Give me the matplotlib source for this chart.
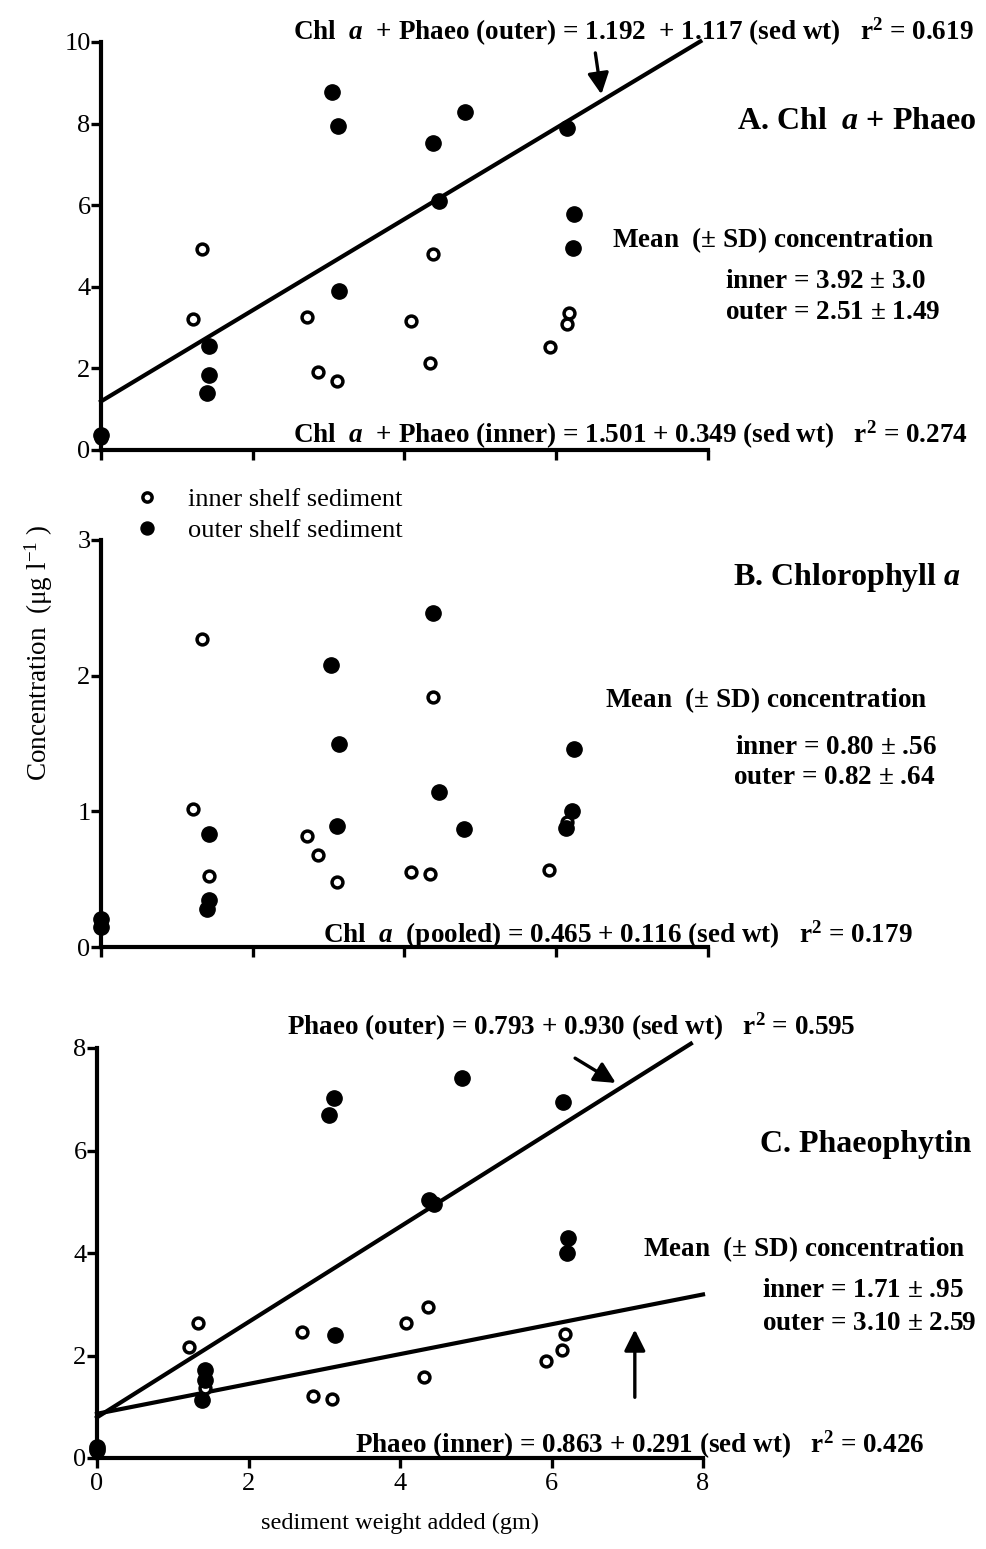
import numpy as np
import matplotlib
matplotlib.use("Agg")
from matplotlib import pyplot as plt

plt.rcParams['font.family'] = ['Liberation Serif', 'DejaVu Serif']
plt.rcParams['mathtext.fontset'] = 'custom'
plt.rcParams['mathtext.rm'] = 'Liberation Serif:bold'
plt.rcParams['mathtext.bf'] = 'Liberation Serif:bold'
plt.rcParams['mathtext.it'] = 'Liberation Serif:italic:bold'
plt.rcParams['mathtext.sf'] = 'Liberation Serif'

# --- A. Chl a + Phaeo ---
a_inner_x = [0.0, 1.33, 1.21, 2.71, 2.86, 3.11, 4.08, 4.34, 4.37, 5.92, 6.14, 6.17]
a_inner_y = [0.30, 4.93, 3.21, 3.26, 1.91, 1.70, 3.17, 2.13, 4.80, 2.52, 3.08, 3.35]
a_outer_x = [0.0, 1.42, 1.42, 1.40, 3.04, 3.12, 3.14, 4.37, 4.45, 4.80, 6.14, 6.24, 6.22]
a_outer_y = [0.37, 2.55, 1.84, 1.39, 8.77, 7.94, 3.90, 7.53, 6.10, 8.29, 7.90, 5.78, 4.95]
a_fit_outer = (1.192, 1.117)

# --- B. Chlorophyll a ---
b_inner_x = [1.33, 1.21, 1.42, 2.71, 2.86, 3.11, 4.08, 4.33, 4.37, 5.91, 6.14]
b_inner_y = [2.27, 1.02, 0.52, 0.82, 0.68, 0.48, 0.55, 0.54, 1.84, 0.57, 0.92]
b_outer_x = [0.0, 0.0, 1.42, 1.42, 1.40, 3.03, 3.14, 3.11, 4.37, 4.45, 4.78, 6.24, 6.21, 6.13]
b_outer_y = [0.21, 0.15, 0.83, 0.35, 0.28, 2.08, 1.50, 0.89, 2.46, 1.14, 0.87, 1.46, 1.00, 0.88]

# --- C. Phaeophytin ---
c_inner_x = [1.21, 1.33, 1.42, 2.71, 2.85, 3.10, 4.08, 4.37, 4.32, 5.93, 6.14, 6.18]
c_inner_y = [2.17, 2.63, 1.37, 2.46, 1.21, 1.15, 2.63, 2.95, 1.58, 1.89, 2.11, 2.42]
c_outer_x = [0.0, 0.0, 1.43, 1.43, 1.39, 3.06, 3.13, 3.14, 4.38, 4.45, 4.82, 6.15, 6.22, 6.21]
c_outer_y = [0.22, 0.15, 1.72, 1.52, 1.13, 6.69, 7.02, 2.40, 5.03, 4.96, 7.41, 6.95, 4.29, 4.00]
c_fit_outer = (0.793, 0.930)
c_fit_inner = (0.863, 0.291)

W, H = 986, 1549
fig = plt.figure(figsize=(W / 100, H / 100), dpi=100)


def px_axes(left, right, bottom, top):
    return fig.add_axes([left / W, 1 - bottom / H, (right - left) / W, (bottom - top) / H])


def style(ax, ymax, ystep, xlabels=False):
    ax.set_xlim(0, 8)
    ax.set_ylim(0, ymax)
    ax.set_xticks([0, 2, 4, 6, 8])
    ticks = np.arange(0, ymax + 0.01, ystep)
    ax.set_yticks(ticks)
    ax.set_yticklabels([f"{v:g}" for v in ticks])
    if not xlabels:
        ax.set_xticklabels([])
    for s in ['top', 'right']:
        ax.spines[s].set_visible(False)
    for s in ['left', 'bottom']:
        ax.spines[s].set_linewidth(3)
    ax.tick_params(width=2.4, length=7, labelsize=19, pad=0.5)
    ax.patch.set_alpha(0)


def scatter(ax, xi, yi, xo, yo):
    h1, = ax.plot(xi, yi, 'o', ms=7.8, mfc='white', mec='black', mew=2.5,
                  ls='none', clip_on=False, zorder=3)
    h2, = ax.plot(xo, yo, 'o', ms=11, color='black', ls='none',
                  clip_on=False, zorder=4)
    return h1, h2


def fit_line(ax, coef, xmax):
    xs = np.array([0, xmax])
    ax.plot(xs, coef[0] + coef[1] * xs, color='black', lw=3, clip_on=False,
            zorder=2)


def label(ax, x, y, s, size=19.5, weight='bold'):
    ax.text(x, y, s, fontsize=size, fontweight=weight, ha='left', va='center',
            clip_on=False)


def arrow(ax, x0, y0, x1, y1):
    ax.annotate('', xy=(x1, y1), xytext=(x0, y0),
                arrowprops=dict(arrowstyle='-|>', lw=2.4, color='black',
                                mutation_scale=32), annotation_clip=False)


# Panel A
ax1 = px_axes(101, 708, 450, 42)
style(ax1, 10, 2)
scatter(ax1, a_inner_x, a_inner_y, a_outer_x, a_outer_y)
fit_line(ax1, a_fit_outer, 7.9)
label(ax1, 2.53, 10.25, r"Chl  $a$  + Phaeo (outer) = 1.192  + 1.117 (sed wt)   r$^2$ = 0.619")
label(ax1, 8.38, 8.04, r"A. Chl  $a$ + Phaeo", size=23)
label(ax1, 6.73, 5.15, r"Mean  ($\pm$ SD) concentration")
label(ax1, 8.22, 4.14, r"inner = 3.92 $\pm$ 3.0")
label(ax1, 8.22, 3.36, r"outer = 2.51 $\pm$ 1.49")
label(ax1, 2.53, 0.37, r"Chl  $a$  + Phaeo (inner) = 1.501 + 0.349 (sed wt)   r$^2$ = 0.274")
arrow(ax1, 6.51, 9.80, 6.60, 8.65)

# Panel B
ax2 = px_axes(101, 708, 947, 540)
style(ax2, 3, 1)
hi, ho = scatter(ax2, b_inner_x, b_inner_y, b_outer_x, b_outer_y)
label(ax2, 8.33, 2.72, r"B. Chlorophyll $a$", size=23)
label(ax2, 6.64, 1.82, r"Mean  ($\pm$ SD) concentration")
label(ax2, 8.35, 1.47, r"inner = 0.80 $\pm$ .56")
label(ax2, 8.33, 1.25, r"outer = 0.82 $\pm$ .64")
label(ax2, 2.92, 0.09, r"Chl  $a$  (pooled) = 0.465 + 0.116 (sed wt)   r$^2$ = 0.179")
ax2.legend([hi, ho], ['inner shelf sediment', 'outer shelf sediment'],
           loc='center left', bbox_to_anchor=(0.054, 1.062), frameon=False,
           fontsize=19, handlelength=1.0, handletextpad=1.04,
           labelspacing=0.3, borderpad=0, borderaxespad=0, markerscale=0.85)
ax2.set_ylabel(r"Concentration  ($\mathsf{\mu g\ l}^{\mathsf{-1}}$ )", fontsize=19.5)
ax2.yaxis.set_label_coords(-0.075, 0.722)

# Panel C
ax3 = px_axes(97, 703, 1458, 1048)
style(ax3, 8, 2, xlabels=True)
scatter(ax3, c_inner_x, c_inner_y, c_outer_x, c_outer_y)
fit_line(ax3, c_fit_outer, 7.84)
fit_line(ax3, c_fit_inner, 8.0)
label(ax3, 2.51, 8.41, r"Phaeo (outer) = 0.793 + 0.930 (sed wt)   r$^2$ = 0.595")
label(ax3, 8.75, 6.11, "C. Phaeophytin", size=23)
label(ax3, 7.21, 4.08, r"Mean  ($\pm$ SD) concentration")
label(ax3, 8.78, 3.27, r"inner = 1.71 $\pm$ .95")
label(ax3, 8.78, 2.63, r"outer = 3.10 $\pm$ 2.59")
label(ax3, 3.41, 0.25, r"Phaeo (inner) = 0.863 + 0.291 (sed wt)   r$^2$ = 0.426")
arrow(ax3, 6.28, 7.83, 6.88, 7.29)
arrow(ax3, 7.10, 1.13, 7.10, 2.56)
ax3.tick_params(axis='x', pad=4)
ax3.set_xlabel("sediment weight added (gm)", fontsize=17.5)
ax3.xaxis.set_label_coords(0.5, -0.134)

fig.savefig("out.png", dpi=100)
